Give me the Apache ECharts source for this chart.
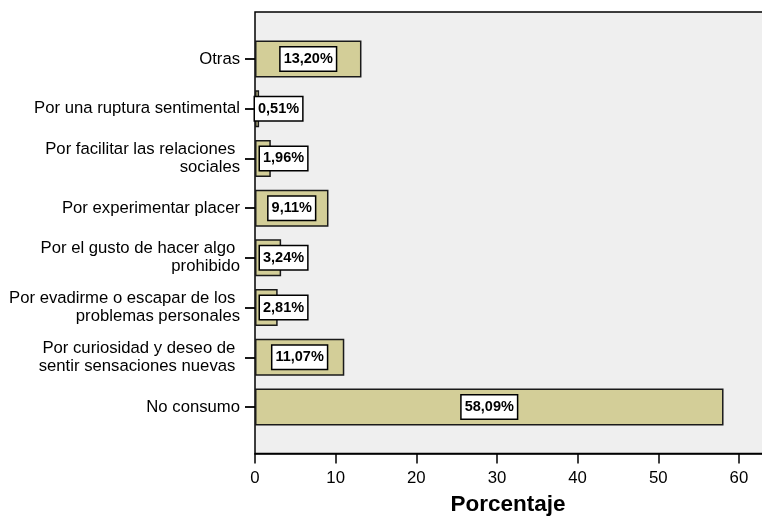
<!DOCTYPE html>
<html>
<head>
<meta charset="utf-8">
<script src="https://cdn.jsdelivr.net/npm/echarts@6/dist/echarts.min.js"></script>
<style>
  html, body { margin: 0; padding: 0; background: #ffffff; }
  #chart { width: 762px; height: 518px; }
</style>
</head>
<body>
<div id="chart"></div>
<script>
// Motivos de consumo, de arriba abajo
const categories = [
  'Otras',
  'Por una ruptura sentimental',
  'Por facilitar las relaciones \nsociales',
  'Por experimentar placer',
  'Por el gusto de hacer algo \nprohibido',
  'Por evadirme o escapar de los \nproblemas personales',
  'Por curiosidad y deseo de \nsentir sensaciones nuevas ',
  'No consumo'
];
// Porcentaje de respuestas
const percentages = [13.20, 0.51, 1.96, 9.11, 3.24, 2.81, 11.07, 58.09];
// Marcas del eje de porcentaje
const xTicks = [0, 10, 20, 30, 40, 50, 60];

const fontFamily = '"Liberation Sans", Arial, sans-serif';

const barData = percentages.map(function (v) {
  const item = { value: v };
  if (v < 5) {
    item.label = { position: 'insideLeft', distance: v < 1 ? 0 : 5 };
  }
  return item;
});

const chart = echarts.init(document.getElementById('chart'), null, { renderer: 'canvas' });
chart.setOption({
  animation: false,
  backgroundColor: '#ffffff',
  grid: [
    // marco del área de trazado (sin borde derecho visible)
    { left: 255, width: 520, top: 12, bottom: 64.5, show: true,
      outerBoundsMode: 'none', containLabel: false,
      backgroundColor: '#efefef', borderColor: '#000000', borderWidth: 1.5 },
    // barras
    { left: 255, width: 517, top: 34.2, bottom: 86.2,
      outerBoundsMode: 'none', containLabel: false }
  ],
  xAxis: [
    { gridIndex: 0, type: 'value', min: 0, max: 1, show: false },
    {
      gridIndex: 1, type: 'value', min: 0, max: 64.1, interval: 10,
      offset: 21.7,
      axisLine: { show: true, lineStyle: { color: '#000', width: 1.5 } },
      axisTick: { show: true, length: 10, lineStyle: { color: '#000', width: 1.5 } },
      axisLabel: {
        color: '#000', fontSize: 16.8, fontFamily: fontFamily, margin: 16,
        formatter: function (v) { return xTicks.indexOf(v) >= 0 ? String(v) : ''; }
      },
      splitLine: { show: false },
      name: 'Porcentaje',
      nameLocation: 'middle',
      nameGap: 40,
      nameTextStyle: { color: '#000', fontSize: 22.5, fontWeight: 'bold', fontFamily: fontFamily,
        padding: [0, 11, 0, 0] }
    }
  ],
  yAxis: [
    { gridIndex: 0, type: 'value', min: 0, max: 1, show: false },
    {
      gridIndex: 1, type: 'category', data: categories, inverse: true,
      axisLine: { show: false },
      axisTick: { show: true, alignWithLabel: true, length: 10,
        lineStyle: { color: '#000', width: 1.8 } },
      axisLabel: { color: '#000', fontSize: 16.7, fontFamily: fontFamily, margin: 15,
        lineHeight: 18, align: 'right' },
      splitLine: { show: false }
    }
  ],
  series: [{
    type: 'bar',
    xAxisIndex: 1,
    yAxisIndex: 1,
    data: barData,
    barWidth: 37,
    itemStyle: { color: '#d3ce98', borderColor: '#1a1a1a', borderWidth: 1.5 },
    label: {
      show: true,
      position: 'inside',
      formatter: function (p) { return p.value.toFixed(2).replace('.', ',') + '%'; },
      color: '#000',
      fontSize: 14.5,
      fontWeight: 'bold',
      fontFamily: fontFamily,
      backgroundColor: '#ffffff',
      borderColor: '#000000',
      borderWidth: 1.5,
      padding: [4, 3, 3, 3],
      lineHeight: 16
    }
  }]
});
</script>
</body>
</html>
